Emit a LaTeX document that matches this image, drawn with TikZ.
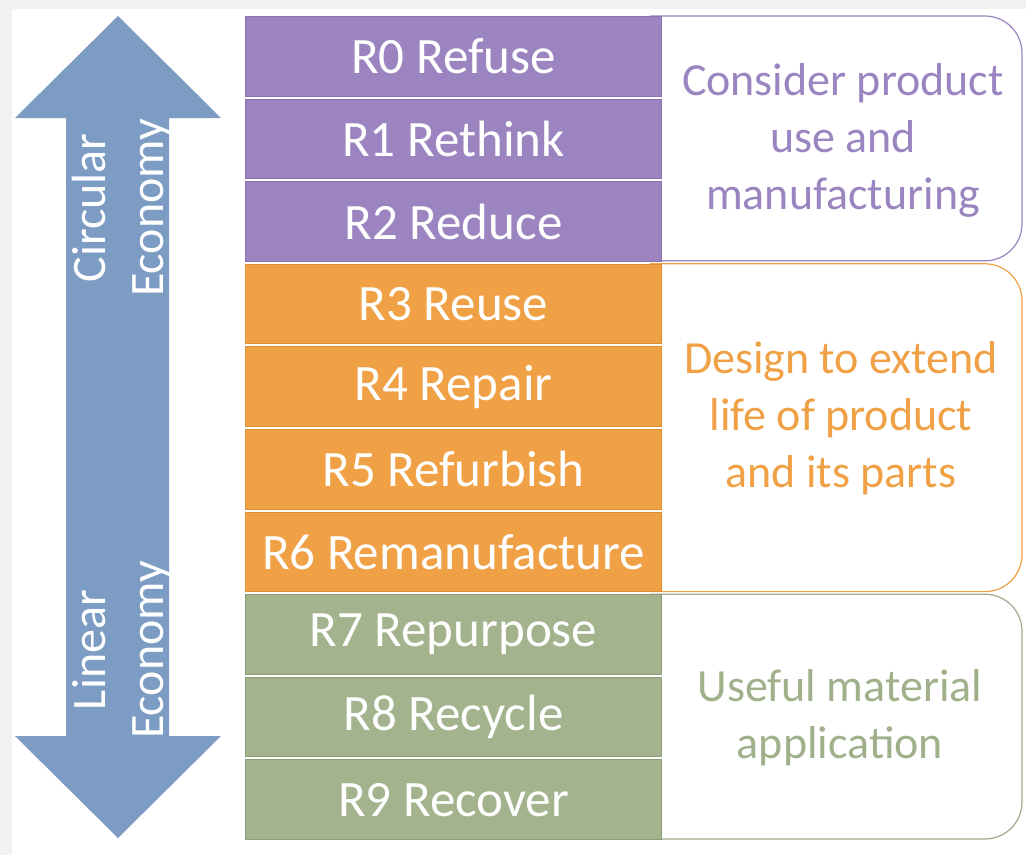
\documentclass[tikz,border=0pt]{standalone}
\usepackage{fontspec}
\setmainfont{Carlito}
\definecolor{bgGray}{HTML}{F2F2F2}
\definecolor{arrowBlue}{HTML}{7C9CC4}
\definecolor{cPurple}{HTML}{9C84C1}
\definecolor{cPurpleD}{HTML}{8A72B0}
\definecolor{cOrange}{HTML}{F0A145}
\definecolor{cOrangeD}{HTML}{DE8E32}
\definecolor{cGreen}{HTML}{A3B38E}
\definecolor{cGreenD}{HTML}{8E9E78}
\definecolor{tPurple}{HTML}{9A85C0}
\definecolor{tOrange}{HTML}{F0A145}
\definecolor{tGreen}{HTML}{A0B08A}
\begin{document}
\begin{tikzpicture}[x=1pt,y=-1pt,
  rbox/.style={draw=#1D, line width=1pt, fill=#1, minimum width=416pt, minimum height=79.6pt,
    text=white, font=\fontsize{51}{60}\selectfont, inner sep=0pt, anchor=north west},
  grpline/.style={line width=1.2pt, rounded corners=37pt},
  grptext/.style={align=center, font=\fontsize{46}{57}\selectfont, inner sep=0pt},
  arrtext/.style={align=center, text=white, font=\fontsize{48}{58}\selectfont, rotate=90, inner sep=0pt}
]
\useasboundingbox (0,0) rectangle (1026,855);
\fill[bgGray] (0,0) rectangle (1026,855);
\fill[white] (12,9) rectangle (1026,855);

% double arrow
\fill[arrowBlue] (118,16) -- (221,118) -- (169,118) -- (169,736) -- (221,736) -- (118,838)
  -- (15,736) -- (66,736) -- (66,118) -- (15,118) -- cycle;
\node[arrtext] (circ) at (122,208) {Circular\\Economy};
\node[arrtext] (lin) at (122,650) {Linear\\Economy};

% right group boxes
\draw[grpline, draw=cPurple] (650,16) -- (1022,16) -- (1022,260.8) -- (650,260.8);
\draw[grpline, draw=cOrange] (650,263.8) -- (1022,263.8) -- (1022,591.6) -- (650,591.6);
\draw[grpline, draw=cGreen!85!gray] (650,594.2) -- (1022,594.2) -- (1022,839) -- (650,839);

\node[grptext, text=tPurple] (g1) at (843,140) {Consider product\\use and\\manufacturing};
\node[grptext, text=tOrange] (g2) at (841,418) {Design to extend\\life of product\\and its parts};
\node[grptext, text=tGreen] (g3) at (840,718) {Useful material\\application};

% R boxes
\node[rbox=cPurple] (r0) at (245,16) {R0 Refuse};
\node[rbox=cPurple] (r1) at (245,98.6) {R1 Rethink};
\node[rbox=cPurple] (r2) at (245,181.2) {R2 Reduce};
\node[rbox=cOrange] (r3) at (245,263.8) {R3 Reuse};
\node[rbox=cOrange] (r4) at (245,346.4) {R4 Repair};
\node[rbox=cOrange] (r5) at (245,429) {R5 Refurbish};
\node[rbox=cOrange] (r6) at (245,511.6) {R6 Remanufacture};
\node[rbox=cGreen] (r7) at (245,594.2) {R7 Repurpose};
\node[rbox=cGreen] (r8) at (245,676.8) {R8 Recycle};
\node[rbox=cGreen] (r9) at (245,759.4) {R9 Recover};
\end{tikzpicture}
\end{document}
